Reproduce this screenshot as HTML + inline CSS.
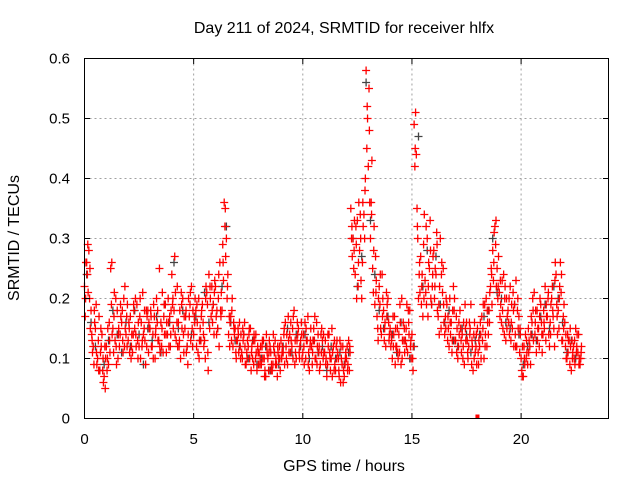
<!DOCTYPE html>
<html><head><meta charset="utf-8"><style>
body{margin:0;background:#fff}
svg text{font-family:"Liberation Sans",sans-serif;font-size:15px;fill:#000}
svg text.big{font-size:16px}
</style></head><body>
<svg id="chart" width="640" height="480" xmlns="http://www.w3.org/2000/svg">
<rect width="640" height="480" fill="#fff"/>
<g id="grid"></g>
<g id="marks"></g>
<rect x="84.5" y="58.5" width="524" height="360" fill="none" stroke="#000"/>
<g id="ticks"></g>
<text class="big" x="344" y="33" text-anchor="middle">Day 211 of 2024, SRMTID for receiver hlfx</text>
<text class="big" x="344" y="471" text-anchor="middle">GPS time / hours</text>
<text class="big" transform="translate(19,238) rotate(-90)" text-anchor="middle">SRMTID / TECUs</text>
</svg>
<script>
const xTicks=[0,5,10,15,20];
const yTicks=[0,0.1,0.2,0.3,0.4,0.5,0.6];
const yTickLabels=["0","0.1","0.2","0.3","0.4","0.5","0.6"];
const redA=[.22,.26,.28,.18,.12,.15,.10,.08,.14,.07,.12,.09,.25,.15,.13,.18,.12,.16,.20,.14,.13,.17,.11,.15,.19,.12,.16,.14,.09,.18,.15,.12,.17,.20,.13,.16,.11,.19,.14,.17,.24,.18,.13,.16,.10,.20,.15,.12,.17,.22,.14,.18,.11,.15,.19,.13,.21,.24,.17,.19,.22,.15,.26,.18,.36,.30,.14,.17,.12,.15,.13,.16,.11,.14,.09,.12,.15,.10,.13,.08,.11,.09,.13,.07,.10,.12,.08,.11,.09,.10,.13,.11,.16,.09,.14,.12,.18,.10,.15,.13,.11,.16,.13,.08,.12,.15,.10,.14,.09,.13,.11,.07,.14,.10,.12,.08,.11,.13,.09,.07,.10,.13,.35,.30,.24,.33,.28,.20,.34,.58,.42,.30,.25,.19,.17,.22,.14,.18,.12,.20,.15,.10,.17,.12,.14,.09,.16,.13,.11,.18,.14,.49,.44,.20,.27,.17,.23,.30,.25,.19,.28,.24,.17,.30,.21,.14,.19,.12,.16,.22,.13,.10,.18,.14,.09,.16,.12,.19,.08,.11,.15,.12,.17,.10,.20,.14,.22,.28,.32,.25,.21,.16,.24,.13,.18,.22,.15,.19,.12,.17,.10,.07,.14,.09,.12,.16,.21,.11,.15,.19,.14,.22,.17,.12,.20,.15,.24,.18,.26,.13,.16,.10,.13,.08,.12,.15,.11,.09];
const redB=[.17,.24,.20,.14,.09,.19,.13,.11,.08,.12,.08,.16,.19,.11,.20,.10,.14,.18,.12,.17,.16,.10,.14,.20,.13,.17,.12,.15,.18,.11,.18,.14,.10,.16,.25,.12,.17,.14,.20,.12,.19,.27,.16,.12,.21,.14,.17,.09,.19,.15,.17,.12,.20,.13,.16,.10,.19,.15,.22,.14,.17,.20,.18,.29,.32,.20,.17,.13,.16,.11,.15,.12,.10,.16,.11,.14,.08,.13,.10,.12,.09,.12,.10,.14,.08,.11,.09,.13,.07,.12,.10,.14,.12,.17,.11,.15,.09,.13,.11,.16,.14,.10,.17,.12,.09,.13,.16,.11,.14,.10,.13,.09,.11,.15,.08,.12,.10,.06,.12,.09,.12,.08,.30,.25,.32,.22,.34,.26,.30,.45,.55,.36,.21,.27,.15,.19,.24,.13,.21,.16,.12,.17,.09,.15,.11,.20,.13,.15,.18,.12,.10,.42,.35,.24,.19,.29,.21,.17,.33,.22,.20,.31,.19,.15,.25,.17,.13,.20,.11,.18,.17,.12,.15,.10,.19,.13,.16,.09,.14,.12,.11,.16,.13,.19,.12,.18,.25,.23,.29,.20,.17,.23,.14,.20,.16,.13,.21,.14,.18,.11,.08,.12,.10,.15,.09,.20,.14,.18,.12,.16,.18,.13,.20,.16,.22,.12,.19,.15,.21,.17,.12,.14,.09,.13,.10,.11,.14,.10];
const redC=[.26,.21,.15,.11,.16,.09,.17,.12,.06,.10,.15,.11,.14,.21,.09,.15,.17,.11,.15,.19,.11,.14,.18,.12,.16,.10,.21,.13,.17,.15,.12,.19,.15,.13,.11,.21,.14,.16,.12,.18,.15,.21,.12,.18,.15,.17,.11,.20,.13,.18,.20,.16,.13,.18,.12,.22,.08,.20,.16,.23,.18,.12,.21,.23,.27,.24,.16,.20,.14,.13,.11,.14,.13,.09,.13,.10,.12,.14,.11,.09,.12,.10,.08,.11,.13,.09,.12,.10,.11,.08,.12,.09,.14,.11,.13,.17,.11,.14,.12,.10,.09,.13,.11,.15,.13,.10,.12,.08,.15,.11,.10,.12,.08,.11,.09,.13,.07,.10,.08,.11,.09,.11,.27,.33,.20,.36,.23,.32,.40,.50,.36,.43,.32,.23,.20,.15,.20,.16,.19,.14,.13,.14,.12,.10,.16,.13,.11,.19,.14,.10,.12,.51,.30,.21,.24,.34,.19,.26,.20,.27,.25,.18,.22,.26,.16,.20,.15,.14,.18,.13,.15,.14,.11,.16,.13,.10,.15,.12,.16,.09,.13,.10,.19,.14,.16,.21,.19,.31,.22,.27,.19,.15,.22,.17,.14,.19,.12,.23,.15,.14,.12,.09,.11,.13,.17,.13,.18,.15,.20,.11,.15,.17,.14,.19,.17,.26,.14,.22,.13,.19,.10,.13,.12,.11,.09,.14,.10,.12];
const redD=[.20,.29,.25,.13,.18,.11,.08,.15,.10,.05,.10,.13,.26,.17,.12,.14,.19,.13,.22,.12,.15,.12,.19,.14,.10,.20,.13,.18,.12,.16,.17,.10,.14,.18,.12,.15,.19,.11,.16,.14,.20,.14,.22,.13,.19,.11,.18,.14,.21,.12,.16,.19,.10,.17,.14,.20,.11,.22,.18,.21,.14,.24,.17,.26,.35,.22,.12,.18,.15,.10,.14,.10,.15,.12,.10,.15,.11,.09,.14,.11,.10,.13,.07,.12,.11,.08,.14,.09,.12,.10,.11,.15,.10,.13,.16,.10,.13,.16,.10,.14,.12,.15,.09,.13,.11,.17,.09,.12,.11,.14,.09,.14,.10,.07,.13,.10,.08,.12,.06,.10,.08,.12,.32,.28,.29,.26,.30,.36,.38,.52,.48,.34,.28,.21,.13,.24,.17,.15,.17,.13,.14,.12,.15,.11,.19,.10,.15,.12,.16,.13,.08,.45,.32,.26,.22,.20,.32,.22,.28,.24,.22,.29,.14,.24,.19,.15,.17,.16,.13,.20,.11,.16,.13,.12,.15,.11,.14,.13,.10,.14,.09,.14,.15,.12,.18,.16,.24,.26,.33,.22,.23,.18,.20,.15,.20,.16,.18,.12,.20,.15,.07,.10,.13,.11,.14,.18,.16,.13,.17,.14,.16,.19,.21,.14,.18,.23,.17,.20,.24,.15,.14,.11,.15,.10,.13,.12,.09,.11];
const gray=[.24,.16,.12,.08,.09,.13,.18,.14,.11,.16,.12,.18,.14,.09,.15,.13,.17,.11,.19,.16,.26,.15,.18,.12,.14,.17,.13,.21,.16,.19,.15,.22,.32,.16,.13,.12,.14,.10,.13,.09,.10,.12,.08,.11,.09,.12,.15,.11,.14,.12,.14,.10,.13,.11,.12,.08,.12,.10,.11,.09,.11,.30,.22,.27,.56,.33,.24,.18,.15,.17,.14,.11,.16,.13,.10,.12,.47,.22,.28,.19,.27,.19,.16,.18,.13,.12,.15,.14,.11,.13,.14,.17,.18,.30,.21,.20,.16,.15,.19,.14,.09,.12,.14,.13,.17,.19,.15,.22,.20,.16,.11,.13,.10];
const gapTime=[18.0];
const gapValue=[0];
const X0=84.5,PXH=21.83,Y0=418.5,PXV=600;
function xs(t){return X0+t*PXH;}
function ys(v){return Y0-v*PXV;}
const NS="http://www.w3.org/2000/svg";
const grid=document.getElementById('grid'),ticks=document.getElementById('ticks'),marks=document.getElementById('marks');
function mk(tag,a,p){const e=document.createElementNS(NS,tag);for(const k in a)e.setAttribute(k,a[k]);p.appendChild(e);return e;}
xTicks.forEach(t=>{const x=xs(t);
 if(t>0){const g=mk('line',{x1:x,x2:x,y1:58.5,y2:418.5,stroke:'#a0a0a0','stroke-dasharray':'2,3'},grid);
 
 }
 mk('line',{x1:x,x2:x,y1:418.5,y2:413,stroke:'#000'},ticks);
 mk('line',{x1:x,x2:x,y1:58.5,y2:64,stroke:'#000'},ticks);
 const l=mk('text',{x:x,y:444,'text-anchor':'middle'},ticks);l.textContent=String(t);
 
 
});
yTicks.forEach((v,i)=>{const y=ys(v);
 if(v>0&&v<0.6){const g=mk('line',{x1:84.5,x2:608.5,y1:y,y2:y,stroke:'#a0a0a0','stroke-dasharray':'2,3'},grid);
 
 }
 mk('line',{x1:84.5,x2:90,y1:y,y2:y,stroke:'#000'},ticks);
 mk('line',{x1:608.5,x2:603,y1:y,y2:y,stroke:'#000'},ticks);
 const l=mk('text',{x:70,y:y+5,'text-anchor':'end'},ticks);l.textContent=yTickLabels[i];
 
 
});
function plus(t,v,c,name){const x=xs(t),y=ys(v);
 const p=mk('path',{d:`M${x-4} ${y}h8M${x} ${y-4}v8`,stroke:c,'stroke-width':1.3,fill:'none'},marks);
 
 }
gray.forEach((v,i)=>plus(0.1+i*0.2,v,'#444','point-gray'));
redA.forEach((v,i)=>plus(i*0.1,v,'#f00','point-red'));
redB.forEach((v,i)=>plus(0.033+i*0.1,v,'#f00','point-red'));
redD.forEach((v,i)=>plus(0.05+i*0.1,v,'#f00','point-red'));
redC.forEach((v,i)=>plus(0.066+i*0.1,v,'#f00','point-red'));
gapTime.forEach((t,i)=>{const r=mk('rect',{x:xs(t)-2,y:ys(gapValue[i])-4,width:4,height:4,fill:'#f00'},marks);
 
 });
</script>
</body></html>
